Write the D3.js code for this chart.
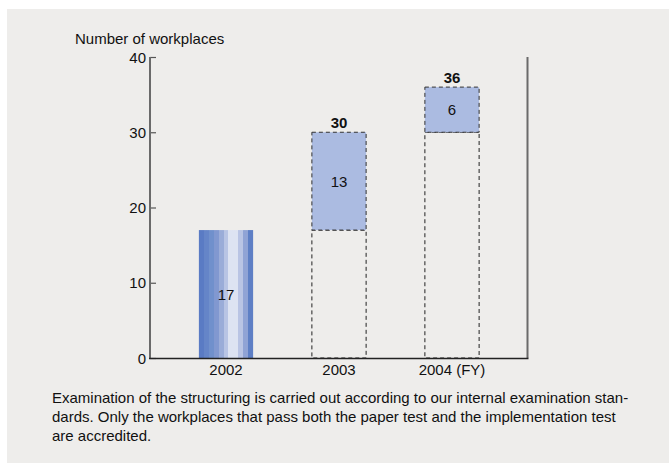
<!DOCTYPE html>
<html><head><meta charset="utf-8">
<script src="https://cdn.jsdelivr.net/npm/d3@7"></script>
<style>body{margin:0;background:#fff}svg{display:block;font-family:"Liberation Sans",Arial,sans-serif}</style>
</head><body><svg id="c" width="669" height="463"></svg>
<script>
const categories = ["2002", "2003", "2004 (FY)"];
const baseValues = [17, 17, 30];
const addedValues = [0, 13, 6];
const totals = [17, 30, 36];
const yTicks = [0, 10, 20, 30, 40];
const captionLines = [
  "Examination of the structuring is carried out according to our internal examination stan-",
  "dards. Only the workplaces that pass both the paper test and the implementation test",
  "are accredited."
];

const FS = 15;
const svg = d3.select("#c");
svg.append("rect").attr("x", 7).attr("y", 9).attr("width", 662).attr("height", 454).attr("fill", "#eeedeb");

const x = d3.scaleBand().domain(categories).range([169.5, 508.5]).paddingInner(0.52).paddingOuter(0.26);
const y = d3.scaleLinear().domain([0, 40]).range([358, 57]);
const bw = x.bandwidth();

const defs = svg.append("defs");
const stripes = ["#5a7bc4","#6585c8","#7090cc","#8198d0","#9aacd8","#b8c4e4","#dde3f2","#dde3f2","#b9c4e4","#90a3d5","#5e7fc5"];
const grad = defs.append("linearGradient").attr("id", "g").attr("x1", 0).attr("x2", 1).attr("y1", 0).attr("y2", 0);
stripes.forEach((c, i) => {
  grad.append("stop").attr("offset", i / stripes.length).attr("stop-color", c);
  grad.append("stop").attr("offset", (i + 1) / stripes.length).attr("stop-color", c);
});

const axL = svg.append("g").attr("transform", `translate(150,0)`)
  .call(d3.axisRight(y).tickValues(yTicks).tickSize(6).tickFormat(""));
axL.select(".domain").remove();
axL.selectAll("line").attr("stroke", "#555").attr("stroke-width", 1.2);
svg.append("line").attr("x1", 150).attr("x2", 150).attr("y1", y(40)).attr("y2", y(0)).attr("stroke", "#6a6a6a").attr("stroke-width", 2);
svg.append("line").attr("x1", 527.5).attr("x2", 527.5).attr("y1", y(40)).attr("y2", y(0)).attr("stroke", "#6a6a6a").attr("stroke-width", 2);
svg.selectAll(".yl").data(yTicks).enter().append("text")
  .attr("x", 146).attr("y", d => y(d) + 5.5).attr("text-anchor", "end")
  .attr("font-size", FS).attr("fill", "#111").text(d => d);

const g = svg.append("g");
categories.forEach((c, i) => {
  if (addedValues[i] === 0) {
    g.append("rect").attr("x", x(c)).attr("y", y(baseValues[i])).attr("width", bw)
      .attr("height", y(0) - y(baseValues[i])).attr("fill", "url(#g)");
    g.append("text").attr("x", x(c) + bw / 2).attr("y", (y(0) + y(baseValues[i])) / 2 + 5.5)
      .attr("text-anchor", "middle").attr("font-size", FS).attr("fill", "#111").text(baseValues[i]);
  } else {
    g.append("rect").attr("x", x(c)).attr("y", y(baseValues[i])).attr("width", bw)
      .attr("height", y(0) - y(baseValues[i])).attr("fill", "none")
      .attr("stroke", "#222").attr("stroke-width", 1).attr("stroke-dasharray", "4,3");
    const top = baseValues[i] + addedValues[i];
    g.append("rect").attr("x", x(c)).attr("y", y(top)).attr("width", bw)
      .attr("height", y(baseValues[i]) - y(top)).attr("fill", "#abbbe1")
      .attr("stroke", "#333").attr("stroke-width", 1).attr("stroke-dasharray", "4,3");
    g.append("text").attr("x", x(c) + bw / 2).attr("y", (y(top) + y(baseValues[i])) / 2 + 5.5)
      .attr("text-anchor", "middle").attr("font-size", FS).attr("fill", "#111").text(addedValues[i]);
    g.append("text").attr("x", x(c) + bw / 2).attr("y", y(totals[i]) - 4)
      .attr("text-anchor", "middle").attr("font-size", FS).attr("font-weight", "bold").attr("fill", "#111").text(totals[i]);
  }
});

svg.append("line").attr("x1", 149).attr("x2", 528.5).attr("y1", 358.5).attr("y2", 358.5).attr("stroke", "#222").attr("stroke-width", 1.3);
svg.selectAll(".xl").data(categories).enter().append("text")
  .attr("x", d => x(d) + bw / 2).attr("y", 375).attr("text-anchor", "middle")
  .attr("font-size", FS).attr("fill", "#111").text(d => d);

svg.append("text").attr("x", 75).attr("y", 44).attr("font-size", FS).attr("fill", "#111").text("Number of workplaces");

svg.selectAll(".cap").data(captionLines).enter().append("text")
  .attr("x", 52).attr("y", (d, i) => 403 + i * 19).attr("font-size", FS).attr("fill", "#111").text(d => d);
</script></body></html>
